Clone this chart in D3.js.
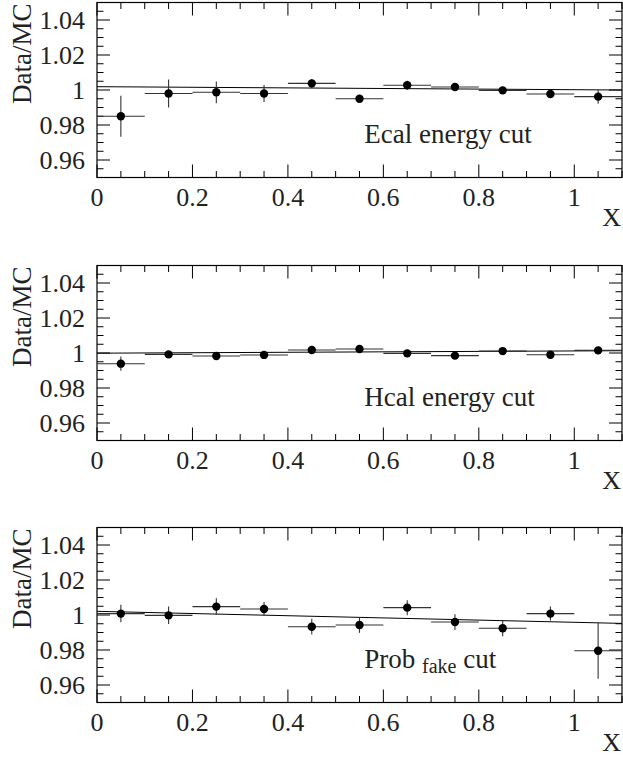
<!DOCTYPE html>
<html><head><meta charset="utf-8">
<script src="https://cdn.jsdelivr.net/npm/d3@7"></script>
<style>body{margin:0;background:#fff}svg{display:block}</style>
</head><body>
<svg id="c" width="623" height="757"></svg>
<script>
const binCenters = [0.05,0.15,0.25,0.35,0.45,0.55,0.65,0.75,0.85,0.95,1.05];
const binHalfWidth = 0.05;
const ecalValues = [0.985,0.998,0.9987,0.998,1.0038,0.995,1.0027,1.0017,0.9998,0.9977,0.9962];
const ecalErrors = [0.0117,0.008,0.0062,0.0048,0.0025,0.002,0.0026,0.002,0.0015,0.002,0.004];
const hcalValues = [0.9939,0.9992,0.9983,0.9989,1.0017,1.0023,0.9998,0.9985,1.0011,0.999,1.0015];
const hcalErrors = [0.0041,0.0015,0.0015,0.0015,0.0015,0.0015,0.0015,0.0015,0.0015,0.0015,0.0015];
const probValues = [1.0008,0.9998,1.0048,1.0034,0.9933,0.9943,1.0042,0.996,0.9924,1.0008,0.9796];
const probErrors = [0.005,0.005,0.0048,0.004,0.0045,0.0045,0.0043,0.0045,0.0045,0.004,0.016];
const fitX = [0, 1.1];
const ecalFit = [1.0019, 1.0000];
const hcalFit = [0.9999, 1.0013];
const probFit = [1.0021, 0.9952];
const xDomain = [0, 1.1];
const yDomain = [0.95, 1.05];
const xMajorTicks = [0,0.2,0.4,0.6,0.8,1];
const xTickLabels = ["0","0.2","0.4","0.6","0.8","1"];
const yMajorTicks = [0.96,0.98,1,1.02,1.04];
const yTickLabels = ["0.96","0.98","1","1.02","1.04"];
const yAxisTitle = "Data/MC";
const xAxisTitle = "X";
const panels = [
  {values: ecalValues, errors: ecalErrors, fit: ecalFit, label: ["Ecal energy cut"]},
  {values: hcalValues, errors: hcalErrors, fit: hcalFit, label: ["Hcal energy cut"]},
  {values: probValues, errors: probErrors, fit: probFit, label: ["Prob", "fake", "cut"]}
];

const svg = d3.select("#c");
const FONT = '"Liberation Serif"';
const L = 97, R = 622, H = 175;
const tops = [2.5, 265.5, 527.5];
const x = d3.scaleLinear().domain(xDomain).range([L, R]);
const xMinor = d3.range(0, 1.1001, 0.05).map(v => +v.toFixed(2));
const yMinor = d3.range(0.95, 1.0501, 0.005).map(v => +v.toFixed(3));

panels.forEach((p, i) => {
  const top = tops[i];
  const y = d3.scaleLinear().domain(yDomain).range([top + H, top]);
  const g = svg.append("g");
  const isMajorX = v => xMajorTicks.some(t => Math.abs(t - v) < 1e-6);
  const isMajorY = v => yMajorTicks.some(t => Math.abs(t - v) < 1e-6);

  const tk = g.append("g").attr("stroke", "#000").attr("stroke-width", 1);
  xMinor.forEach(v => {
    const len = isMajorX(v) ? 13 : 6.5;
    const px = x(v);
    tk.append("line").attr("x1", px).attr("x2", px).attr("y1", top + H).attr("y2", top + H - len);
    tk.append("line").attr("x1", px).attr("x2", px).attr("y1", top).attr("y2", top + len);
  });
  yMinor.forEach(v => {
    const len = isMajorY(v) ? 13 : 6.5;
    const py = y(v);
    tk.append("line").attr("x1", L).attr("x2", L + len).attr("y1", py).attr("y2", py);
    tk.append("line").attr("x1", R).attr("x2", R - len).attr("y1", py).attr("y2", py);
  });

  g.append("rect").attr("x", L).attr("y", top).attr("width", R - L).attr("height", H)
    .attr("fill", "none").attr("stroke", "#000").attr("stroke-width", 1.2);

  xMajorTicks.forEach((v, k) => {
    g.append("text").attr("x", x(v)).attr("y", top + H + 28).attr("text-anchor", "middle")
      .style("font-family", FONT).style("font-size", "26px").attr("fill", "#222").text(xTickLabels[k]);
  });
  yMajorTicks.forEach((v, k) => {
    g.append("text").attr("x", 85).attr("y", y(v)).attr("dy", "0.34em").attr("text-anchor", "end")
      .style("font-family", FONT).style("font-size", "26px").attr("fill", "#222").text(yTickLabels[k]);
  });

  g.append("text").attr("transform", `translate(31,${top + 1}) rotate(-90)`).attr("text-anchor", "end")
    .style("font-family", FONT).style("font-size", "27px").attr("fill", "#222").text(yAxisTitle);
  g.append("text").attr("x", 621).attr("y", top + H + 48).attr("text-anchor", "end")
    .style("font-family", FONT).style("font-size", "26px").attr("fill", "#222").text(xAxisTitle);

  const line = d3.line().x(d => x(d[0])).y(d => y(d[1]));
  g.append("path").attr("d", line(fitX.map((xv, k) => [xv, p.fit[k]])))
    .attr("fill", "none").attr("stroke", "#000").attr("stroke-width", 1);

  const eb = g.append("g").attr("stroke", "#333").attr("stroke-width", 1.1);
  binCenters.forEach((c, k) => {
    const v = p.values[k], e = p.errors[k];
    eb.append("line").attr("x1", x(c - binHalfWidth)).attr("x2", x(c + binHalfWidth))
      .attr("y1", y(v)).attr("y2", y(v));
    eb.append("line").attr("x1", x(c)).attr("x2", x(c)).attr("y1", y(v - e)).attr("y2", y(v + e));
  });
  g.append("g").selectAll("circle").data(binCenters).join("circle")
    .attr("cx", d => x(d)).attr("cy", (d, k) => y(p.values[k])).attr("r", 4.2).attr("fill", "#000");

  const t = g.append("text").attr("x", x(0.56)).attr("y", y(0.9697))
    .style("font-family", FONT).style("font-size", "27px").attr("fill", "#222");
  if (p.label.length === 1) {
    t.text(p.label[0]);
  } else {
    t.append("tspan").text(p.label[0] + " ");
    t.append("tspan").style("font-size", "20px").attr("dy", 5).text(p.label[1]);
    t.append("tspan").attr("dy", -5).text(" " + p.label[2]);
  }
});
</script>
</body></html>
